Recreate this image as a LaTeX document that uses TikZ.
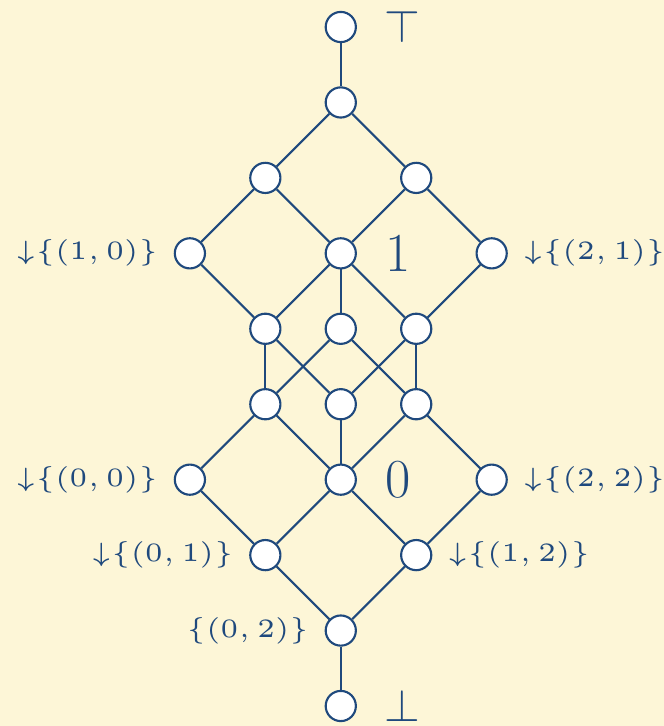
\documentclass[tikz,border=0pt]{standalone}
\usepackage{amssymb,graphicx}
\usetikzlibrary{positioning}
\definecolor{cream}{RGB}{253,246,215}
\definecolor{ink}{RGB}{31,73,125}
\newcommand{\tlab}[1]{\scalebox{2.0}{\tiny$#1$}}
\tikzset{v/.style={draw=ink,fill=white,circle,minimum size=4mm,inner sep=0pt,line width=0.8pt},
 e/.style={draw=ink,line width=0.8pt},
 lb/.style={text=ink,inner sep=0pt},
 big/.style={text=ink,font=\huge,inner sep=0pt},
 bnd/.style={text=ink,font=\fontsize{18.5}{20}\selectfont,inner sep=0pt}}
\begin{document}
\begin{tikzpicture}
\useasboundingbox[fill=cream] (-4.517,-0.265) rectangle (4.278,9.358);
\node[v](t) at (0,9){};\node[v](a) at (0,8){};
\node[v](b1) at (-1,7){};\node[v](b2) at (1,7){};
\node[v](c1) at (-2,6){};\node[v](c2) at (0,6){};\node[v](c3) at (2,6){};
\node[v](d1) at (-1,5){};\node[v](d2) at (0,5){};\node[v](d3) at (1,5){};
\node[v](e1) at (-1,4){};\node[v](e2) at (0,4){};\node[v](e3) at (1,4){};
\node[v](f1) at (-2,3){};\node[v](f2) at (0,3){};\node[v](f3) at (2,3){};
\node[v](g1) at (-1,2){};\node[v](g2) at (1,2){};
\node[v](h) at (0,1){};\node[v](bt) at (0,0){};
\foreach \p/\q in {t/a,a/b1,a/b2,b1/c1,b1/c2,b2/c2,b2/c3,c1/d1,c2/d1,c2/d2,c2/d3,c3/d3,
 d1/e1,d1/e2,d2/e1,d2/e3,d3/e2,d3/e3,e1/f1,e1/f2,e2/f2,e3/f2,e3/f3,
 f1/g1,f2/g1,f2/g2,f3/g2,g1/h,g2/h,h/bt}
 \draw[e](\p)--(\q);
% labels
\node[bnd,right=3.6mm of t](lt){$\top$};\node[bnd,right=3.6mm of bt](lbt){$\bot$};
\node[big,right=3.7mm of c2](l1){$1$};\node[big,right=3.7mm of f2](l0){$0$};
\node[lb,left=2mm of c1](lc1){\tlab{\mathord\downarrow\{(1,0)\}}};\node[lb,right=2mm of c3](lc3){\tlab{\mathord\downarrow\{(2,1)\}}};
\node[lb,left=2mm of f1](lf1){\tlab{\mathord\downarrow\{(0,0)\}}};\node[lb,right=2mm of f3](lf3){\tlab{\mathord\downarrow\{(2,2)\}}};
\node[lb,left=2mm of g1](lg1){\tlab{\mathord\downarrow\{(0,1)\}}};\node[lb,right=2mm of g2](lg2){\tlab{\mathord\downarrow\{(1,2)\}}};
\node[lb,left=2mm of h](lh){\tlab{\{(0,2)\}}};
\end{tikzpicture}
\end{document}
